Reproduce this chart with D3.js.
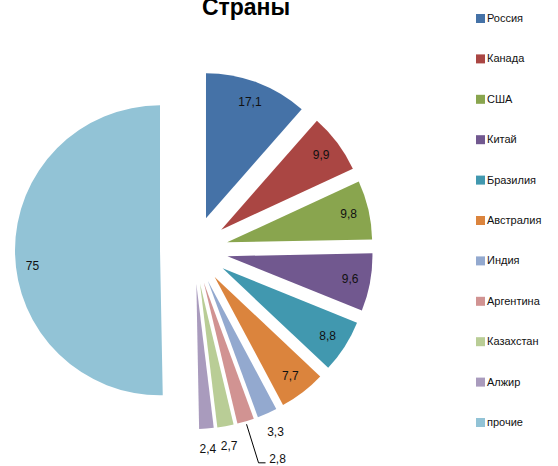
<!DOCTYPE html>
<html>
<head>
<meta charset="utf-8">
<script src="https://cdn.jsdelivr.net/npm/d3@7"></script>
<style>
  body { margin: 0; background: #fff; }
  svg { display: block; font-family: "Liberation Sans", Arial, sans-serif; }
</style>
</head>
<body>
<div id="chart"></div>
<script>
// data
var countries = ["Россия", "Канада", "США", "Китай", "Бразилия", "Австралия",
                 "Индия", "Аргентина", "Казахстан", "Алжир", "прочие"];
var values = [17.1, 9.9, 9.8, 9.6, 8.8, 7.7, 3.3, 2.8, 2.7, 2.4, 75];
var colors = ["#4572A7", "#AA4643", "#89A54E", "#71588F", "#4198AF", "#DB843D",
              "#93A9CF", "#D19392", "#B9CD96", "#A99BBD", "#92C3D6"];
var labelText = ["17,1", "9,9", "9,8", "9,6", "8,8", "7,7", "3,3", "2,8", "2,7", "2,4", "75"];

var width = 558, height = 466;
var cx = 194, cy = 250;
var radius = 145;
var explode = 34;

var svg = d3.select("#chart").append("svg")
    .attr("width", width)
    .attr("height", height);

svg.append("text")
    .attr("x", 246)
    .attr("y", 15)
    .attr("text-anchor", "middle")
    .attr("font-size", 23)
    .attr("font-weight", "bold")
    .attr("fill", "#000")
    .text("Страны");

var pie = d3.pie().sort(null).value(function(d) { return d; });
var arcs = pie(values);
var arc = d3.arc().innerRadius(0).outerRadius(radius);

// unit vector along the middle of a slice (0 = 12 o'clock, clockwise)
function dir(a) {
    var m = (a.startAngle + a.endAngle) / 2;
    return [Math.sin(m), -Math.cos(m)];
}

var g = svg.append("g").attr("transform", "translate(" + cx + "," + cy + ")");

g.selectAll("path.slice")
    .data(arcs)
  .enter().append("path")
    .attr("class", "slice")
    .attr("fill", function(d, i) { return colors[i]; })
    .attr("transform", function(d) {
        var u = dir(d);
        return "translate(" + (u[0] * explode) + "," + (u[1] * explode) + ")";
    })
    .attr("d", arc);

// label placement: inside for big slices, outside for the small ones
function labelPos(d, i) {
    var u = dir(d);
    var k;
    if (i === 10) k = 0.88;
    else if (d.data < 5) k = 1.14;
    else k = 0.86;
    return [u[0] * (explode + radius * k), u[1] * (explode + radius * k)];
}

// Argentina's label is pushed down with a leader line
var shifted = { 7: [26, 18] };
var nudged = { 10: [0, 14] };

arcs.forEach(function(d, i) {
    var p = labelPos(d, i);
    if (nudged[i]) p = [p[0] + nudged[i][0], p[1] + nudged[i][1]];
    if (shifted[i]) {
        var u = dir(d);
        var s = [u[0] * (explode + radius + 3), u[1] * (explode + radius + 3)];
        var t = [p[0] + shifted[i][0], p[1] + shifted[i][1]];
        g.append("polyline")
            .attr("points", [s, [t[0] - 19, t[1] + 4], [t[0] - 12, t[1] + 4]].map(function(q) { return q.join(","); }).join(" "))
            .attr("fill", "none")
            .attr("stroke", "#000")
            .attr("stroke-width", 1);
        p = t;
    }
    g.append("text")
        .attr("x", p[0])
        .attr("y", p[1])
        .attr("text-anchor", "middle")
        .attr("dominant-baseline", "central")
        .attr("font-size", 12)
        .attr("fill", "#111")
        .text(labelText[i]);
});

// legend
var legend = svg.append("g").attr("transform", "translate(476,18)");
var item = legend.selectAll("g")
    .data(countries)
  .enter().append("g")
    .attr("transform", function(d, i) { return "translate(0," + (i * 40.4) + ")"; });

item.append("rect")
    .attr("x", 0)
    .attr("y", -4)
    .attr("width", 9)
    .attr("height", 9)
    .attr("fill", function(d, i) { return colors[i]; });

item.append("text")
    .attr("x", 11)
    .attr("y", 0)
    .attr("dominant-baseline", "central")
    .attr("font-size", 11)
    .attr("fill", "#111")
    .text(function(d) { return d; });
</script>
</body>
</html>
